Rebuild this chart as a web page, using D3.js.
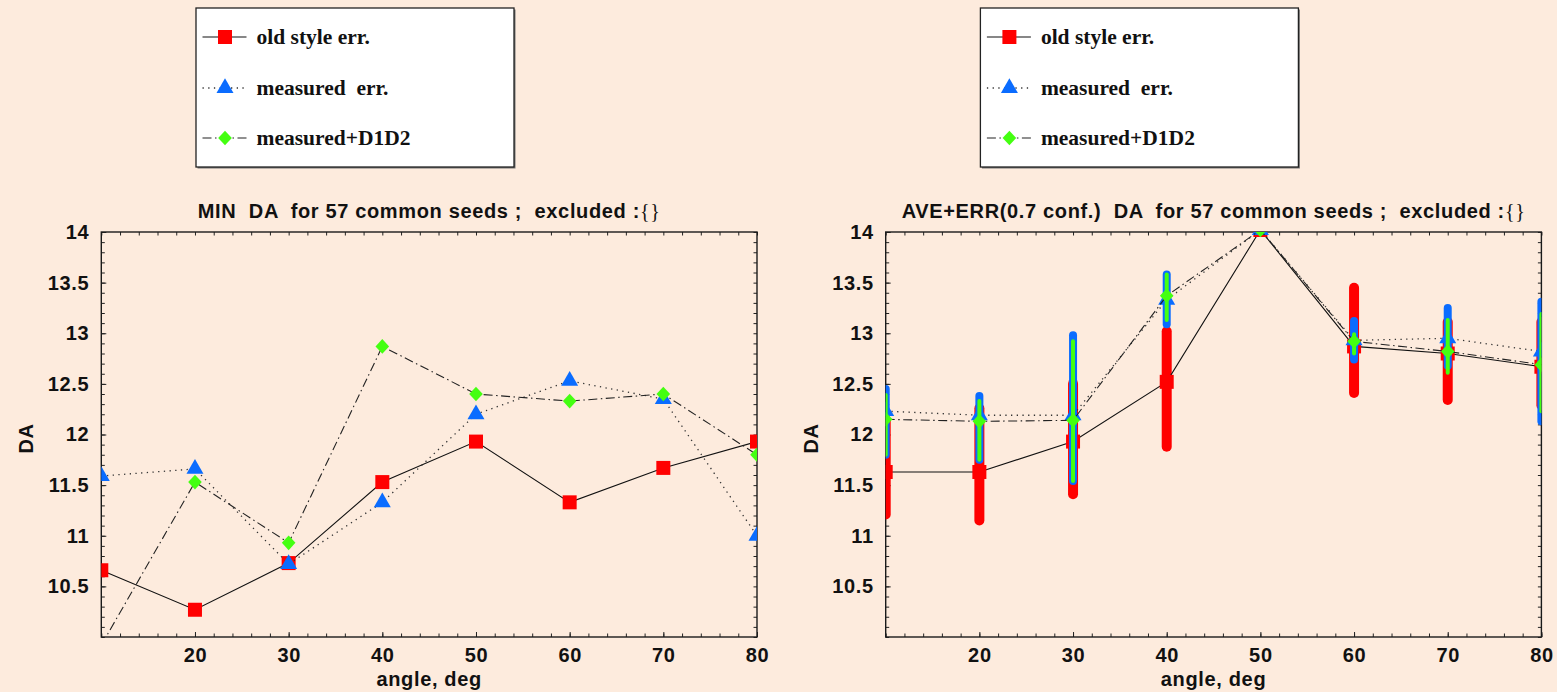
<!DOCTYPE html>
<html><head><meta charset="utf-8">
<script src="https://cdn.jsdelivr.net/npm/d3@7"></script>
<style>
html,body{margin:0;padding:0;background:#fdebdd;}
svg{display:block;}
text{white-space:pre;}
</style></head><body>
<svg id="chart" width="1557" height="692"></svg>
<script>
// ---- data ----
const angles = [10, 20, 30, 40, 50, 60, 70, 80];
const xTickLabels = [20, 30, 40, 50, 60, 70, 80];
const yTickLabels = [10.5, 11, 11.5, 12, 12.5, 13, 13.5, 14];
const seriesNames = ["old style err.", "measured  err.", "measured+D1D2"];

// MIN DA
const minOld  = [10.66, 10.27, 10.73, 11.53, 11.93, 11.33, 11.67, 11.93];
const minMeas = [11.59, 11.66, 10.72, 11.33, 12.20, 12.53, 12.35, 11.00];
const minD1D2 = [9.92, 11.53, 10.93, 12.87, 12.40, 12.33, 12.40, 11.80];

// AVE+ERR (0.7 conf.)
const aveOld    = [11.63, 11.63, 11.93, 12.52, 14.02, 12.87, 12.80, 12.67];
const aveOldLo  = [11.21, 11.15, 11.41, 11.88, null, 12.41, 12.34, 12.29];
const aveOldHi  = [12.13, 12.26, 12.50, 13.02, null, 13.45, 13.11, 13.11];
const aveMeas   = [12.23, 12.19, 12.19, 13.33, 14.02, 12.93, 12.95, 12.82];
const aveMeasLo = [11.80, 11.75, 11.54, 13.09, null, 12.74, 12.68, 12.13];
const aveMeasHi = [12.45, 12.38, 12.98, 13.58, null, 13.12, 13.25, 13.31];
const aveD1D2   = [12.15, 12.13, 12.14, 13.37, 14.02, 12.92, 12.82, 12.69];
const aveD1D2Lo = [11.80, 11.75, 11.54, 13.13, null, 12.80, 12.61, 12.23];
const aveD1D2Hi = [12.39, 12.33, 12.92, 13.58, null, 12.99, 13.13, 13.19];

const titles = [
  "MIN  DA  for 57 common seeds ;  excluded :",
  "AVE+ERR(0.7 conf.)  DA  for 57 common seeds ;  excluded :"
];

// ---- styles ----
const RED = "#ff0000", BLUE = "#0a6cff", GREEN = "#44ff11";
const SANS = "'Liberation Sans', Arial, Helvetica, sans-serif";
const SERIF = "'Liberation Serif', 'Times New Roman', serif";
const SPACING = 0.65;
const lineStyles = [
  {dash: null, width: 1.1, color: "#111"},
  {dash: "1.3,4.4", width: 1.3, color: "#333"},
  {dash: "9,3.5,1.5,3.5", width: 1.1, color: "#222"}
];

const svg = d3.select("#chart");
svg.append("rect").attr("width", 1557).attr("height", 692).attr("fill", "#fdebdd");

const markerPath = [
  () => d3.symbol(d3.symbolSquare, 196)(),
  () => d3.symbol(d3.symbolTriangle, 125)(),
  () => "M0,-7.3L6.8,0L0,7.3L-6.8,0Z"
];
const markerColor = [RED, BLUE, GREEN];

function sansText(sel) {
  return sel.attr("font-family", SANS).attr("font-weight", "bold")
    .attr("font-size", 20).attr("letter-spacing", SPACING).attr("fill", "#111");
}

function drawPanel(idx, dx, series) {
  const m = {left: 101.3 + dx, top: 232, w: 655.7, h: 405};
  const x = d3.scaleLinear().domain([10, 80]).range([0, m.w]);
  const y = d3.scaleLinear().domain([10, 14]).range([m.h, 0]);
  const g = svg.append("g").attr("transform", `translate(${m.left},${m.top})`);

  const clipId = "clip" + idx;
  g.append("clipPath").attr("id", clipId)
    .append("rect").attr("width", m.w).attr("height", m.h);

  // axes with inward ticks on all four sides
  const minorX = d3.range(10, 81, 2);
  const minorY = d3.range(100, 141, 1).map(v => v / 10);
  const styleAxis = sel => {
    sel.select(".domain").remove();
    sel.selectAll("line").attr("stroke", "#222").attr("stroke-width", 1);
    sansText(sel.selectAll("text"));
  };
  g.append("g").attr("transform", `translate(0,${m.h})`)
    .call(d3.axisBottom(x).tickValues(minorX).tickFormat("").tickSize(-3.5)).call(styleAxis);
  g.append("g").attr("transform", `translate(0,${m.h})`)
    .call(d3.axisBottom(x).tickValues(xTickLabels).tickFormat(d3.format("d")).tickSize(-5).tickPadding(11)).call(styleAxis);
  g.append("g")
    .call(d3.axisTop(x).tickValues(minorX).tickFormat("").tickSize(-3.5)).call(styleAxis);
  g.append("g")
    .call(d3.axisLeft(y).tickValues(minorY).tickFormat("").tickSize(-3.5)).call(styleAxis);
  g.append("g")
    .call(d3.axisLeft(y).tickValues(yTickLabels).tickFormat(d => String(d)).tickSize(-5).tickPadding(12)).call(styleAxis);
  g.append("g").attr("transform", `translate(${m.w},0)`)
    .call(d3.axisRight(y).tickValues(minorY).tickFormat("").tickSize(-3.5)).call(styleAxis);

  g.append("rect").attr("width", m.w).attr("height", m.h)
    .attr("fill", "none").attr("stroke", "#1a1a1a").attr("stroke-width", 1.4);

  const plot = g.append("g").attr("clip-path", `url(#${clipId})`);
  const line = d3.line().x(d => x(d[0])).y(d => y(d[1]));

  series.forEach((s, k) => {
    if (s.lo) {
      const bw = [10, 8, 4][k];
      plot.append("g").selectAll("line")
        .data(angles.map((a, i) => [a, s.lo[i], s.hi[i]]).filter(d => d[1] != null))
        .join("line")
        .attr("x1", d => x(d[0])).attr("x2", d => x(d[0]))
        .attr("y1", d => y(d[1])).attr("y2", d => y(d[2]))
        .attr("stroke", markerColor[k]).attr("stroke-width", bw)
        .attr("stroke-linecap", "round");
    }
    const ls = lineStyles[k];
    plot.append("path").datum(angles.map((a, i) => [a, s.v[i]]))
      .attr("d", line).attr("fill", "none")
      .attr("stroke", ls.color).attr("stroke-width", ls.width)
      .attr("stroke-dasharray", ls.dash);
    plot.append("g").selectAll("path")
      .data(angles.map((a, i) => [a, s.v[i]]))
      .join("path")
      .attr("d", markerPath[k]())
      .attr("transform", d => `translate(${x(d[0])},${y(d[1])})`)
      .attr("fill", markerColor[k]);
  });

  // titles and axis names
  const t = sansText(g.append("text").attr("x", m.w / 2).attr("y", -14.3)
    .attr("text-anchor", "middle"));
  t.append("tspan").text(titles[idx]);
  t.append("tspan").attr("font-family", SERIF).attr("font-weight", "normal").text("{}");

  sansText(g.append("text").attr("x", m.w / 2).attr("y", m.h + 49)
    .attr("text-anchor", "middle")).text("angle, deg");

  sansText(g.append("text").attr("transform", `translate(${26 + dx - m.left},${m.h / 2 + 4}) rotate(-90)`)
    .attr("text-anchor", "middle").attr("dy", "0.36em")).text("DA");

  // legend box
  const lg = svg.append("g").attr("transform", `translate(${196 + dx},8)`);
  lg.append("rect").attr("x", 1.5).attr("y", 1.5).attr("width", 318).attr("height", 159).attr("fill", "#777");
  lg.append("rect").attr("width", 318).attr("height", 159).attr("fill", "#fff")
    .attr("stroke", "#222").attr("stroke-width", 1.3);
  const rowsY = [29, 80, 130];
  seriesNames.forEach((name, k) => {
    const ls = lineStyles[k];
    lg.append("line").attr("x1", 6.5).attr("x2", 50.5).attr("y1", rowsY[k]).attr("y2", rowsY[k])
      .attr("stroke", ls.color).attr("stroke-width", ls.width).attr("stroke-dasharray", ls.dash);
    lg.append("path").attr("d", markerPath[k]())
      .attr("transform", `translate(29,${rowsY[k]})`).attr("fill", markerColor[k]);
    lg.append("text").attr("x", 60.5).attr("y", rowsY[k] + 6.5)
      .attr("font-family", SERIF).attr("font-weight", "bold").attr("font-size", 21.5)
      .attr("fill", "#111").text(name);
  });
}

drawPanel(0, 0, [
  {v: minOld}, {v: minMeas}, {v: minD1D2}
]);
drawPanel(1, 784.4, [
  {v: aveOld, lo: aveOldLo, hi: aveOldHi},
  {v: aveMeas, lo: aveMeasLo, hi: aveMeasHi},
  {v: aveD1D2, lo: aveD1D2Lo, hi: aveD1D2Hi}
]);
</script>
</body></html>
